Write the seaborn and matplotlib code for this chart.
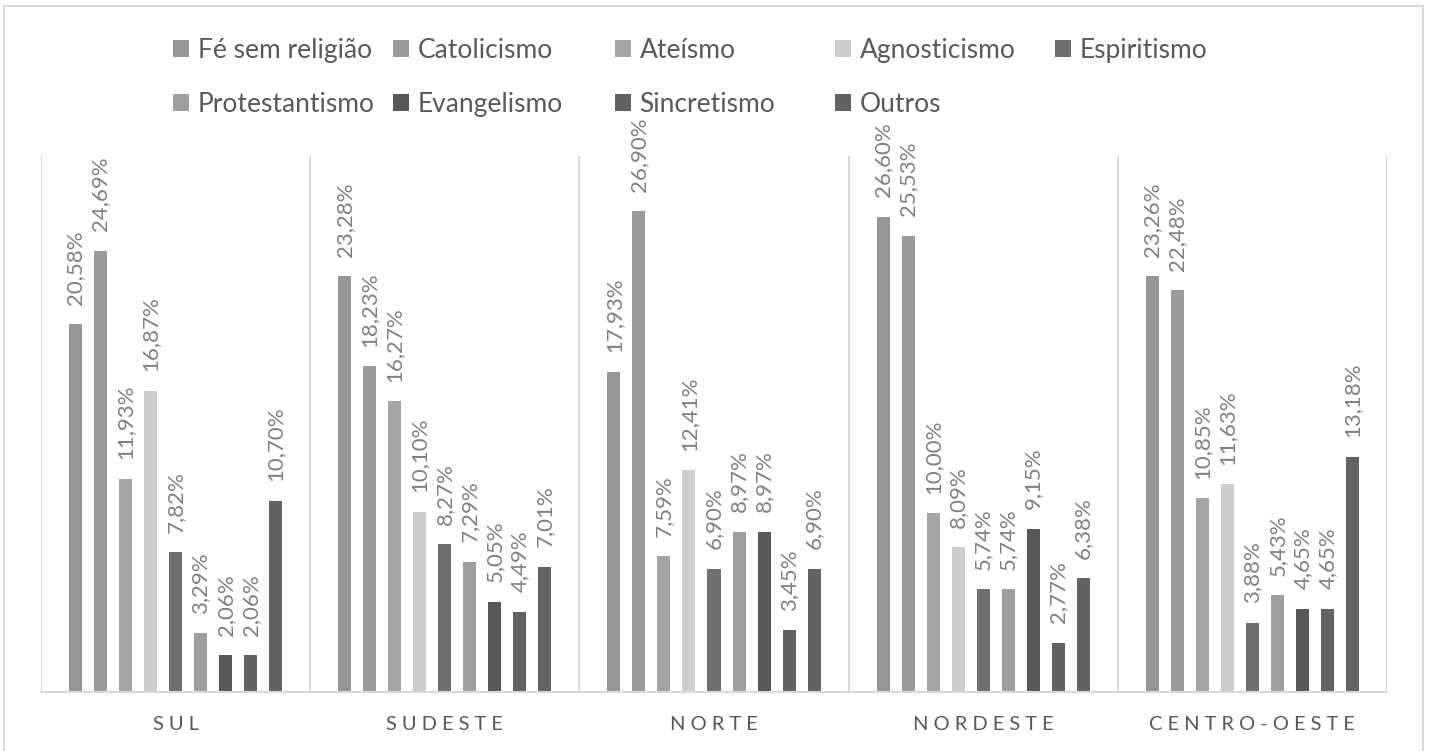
import matplotlib
matplotlib.use("Agg")
import matplotlib.pyplot as plt
from matplotlib.patches import Patch, Rectangle
import pandas as pd
import seaborn as sns

# Regions (x axis) and belief groups (hue)
regioes = ["SUL", "SUDESTE", "NORTE", "NORDESTE", "CENTRO-OESTE"]
religioes = ["Fé sem religião", "Catolicismo", "Ateísmo", "Agnosticismo", "Espiritismo",
             "Protestantismo", "Evangelismo", "Sincretismo", "Outros"]

# Percentages per group, in region order
fe_sem_religiao = [20.58, 23.28, 17.93, 26.60, 23.26]
catolicismo = [24.69, 18.23, 26.90, 25.53, 22.48]
ateismo = [11.93, 16.27, 7.59, 10.00, 10.85]
agnosticismo = [16.87, 10.10, 12.41, 8.09, 11.63]
espiritismo = [7.82, 8.27, 6.90, 5.74, 3.88]
protestantismo = [3.29, 7.29, 8.97, 5.74, 5.43]
evangelismo = [2.06, 5.05, 8.97, 9.15, 4.65]
sincretismo = [2.06, 4.49, 3.45, 2.77, 4.65]
outros = [10.70, 7.01, 6.90, 6.38, 13.18]

series = [fe_sem_religiao, catolicismo, ateismo, agnosticismo, espiritismo,
          protestantismo, evangelismo, sincretismo, outros]

cores = ["#969696", "#9b9b9b", "#a4a4a4", "#cdcdcd", "#6f6f6f",
         "#9e9e9e", "#585858", "#626262", "#636363"]

linhas = []
for rel, vals in zip(religioes, series):
    for reg, v in zip(regioes, vals):
        linhas.append({"regiao": reg, "religiao": rel, "valor": v})
df = pd.DataFrame(linhas)

FONT = ["Lato", "DejaVu Sans"]
plt.rcParams["font.family"] = FONT
TEXT_DARK = "#595959"
LABEL_GRAY = "#808080"
GRID = "#d9d9d9"

W, H = 1432, 751
fig = plt.figure(figsize=(W / 100, H / 100), dpi=100)

# outer chart border
fig.patches.append(Rectangle((4 / W, -0.02), 1419 / W, 1 - 6 / H + 0.02,
                             transform=fig.transFigure, fill=False,
                             edgecolor=GRID, linewidth=1.5))

ax = fig.add_axes([41 / W, 59 / H, 1346 / W, 536 / H])
sns.barplot(data=df, x="regiao", y="valor", hue="religiao",
            order=regioes, hue_order=religioes, palette=cores,
            saturation=1, width=0.836, gap=0.48, linewidth=0,
            errorbar=None, legend=False, ax=ax)

ax.set_ylim(0, 30)
ax.set_xlim(-0.5, 4.5)
ax.set_yticks([])
ax.set_xlabel("")
ax.set_ylabel("")
for s in ["top", "right", "left"]:
    ax.spines[s].set_visible(False)
ax.spines["bottom"].set_color(GRID)
ax.spines["bottom"].set_linewidth(1.5)

# group separators
ax.vlines([i - 0.5 for i in range(len(regioes) + 1)], 0, 30, color=GRID, linewidth=1.5, zorder=0)

# region labels with letter spacing
ax.set_xticks(range(len(regioes)))
ax.set_xticklabels(["\u2009\u2009".join(r) for r in regioes], fontsize=14.5, color=TEXT_DARK)
ax.tick_params(axis="x", length=0, pad=17)

# data labels
for cont, vals in zip(ax.containers, series):
    ax.bar_label(cont, labels=[f"{v:.2f}%".replace(".", ",") for v in vals],
                 rotation=90, padding=14, color=LABEL_GRAY, fontsize=16)

# legend laid out in equally spaced columns
colunas_x = [173, 393, 615, 835, 1055]
for k, x0 in enumerate(colunas_x):
    idx = [k, k + 5] if k + 5 < len(religioes) else [k]
    handles = [Patch(facecolor=cores[i], edgecolor="none") for i in idx]
    labels = [religioes[i] for i in idx]
    fig.legend(handles, labels, loc="upper left",
               bbox_to_anchor=(x0 / W, 1 - 38 / H), frameon=False,
               fontsize=19, labelcolor=TEXT_DARK, borderpad=0, borderaxespad=0,
               handlelength=0.6, handleheight=0.6, handletextpad=0.33,
               labelspacing=1.1)

fig.savefig("out.png", dpi=100, facecolor="white")
